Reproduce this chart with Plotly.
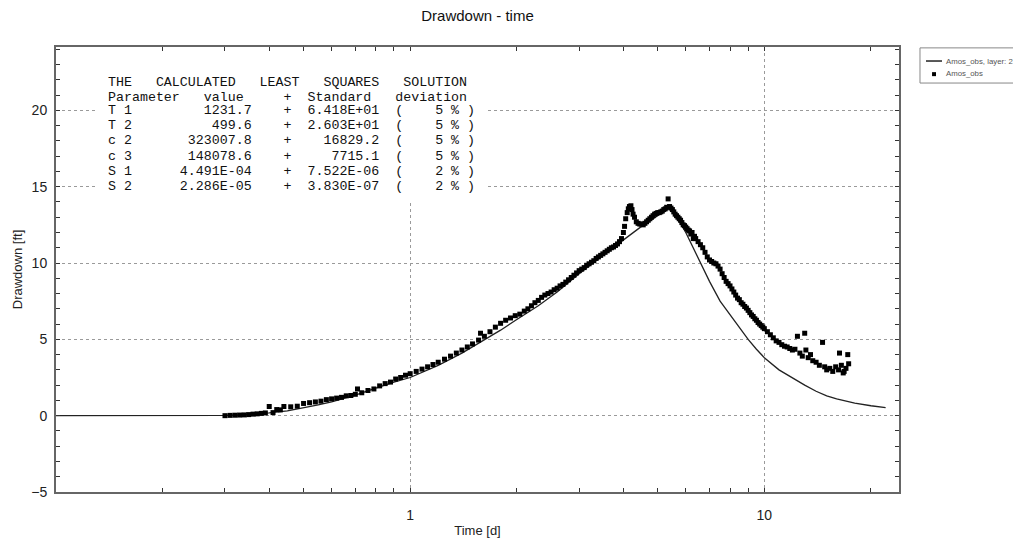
import plotly.graph_objects as go

# ---------------- data ----------------
model_t = [0.1, 0.15, 0.2, 0.25, 0.28, 0.3, 0.33, 0.36, 0.4, 0.45, 0.5, 0.55, 0.6, 0.7, 0.8, 0.9,
           1.0, 1.1, 1.2, 1.4, 1.6, 1.8, 2.0, 2.3, 2.6, 3.0, 3.5, 4.0, 4.5, 5.0, 5.4, 5.6, 5.8,
           6.0, 6.5, 7.0, 7.5, 8.0, 8.5, 9.0, 9.5, 10, 11, 12, 13, 14, 15, 16, 18, 20, 22]
model_s = [0, 0, 0, 0, 0.01, 0.02, 0.05, 0.1, 0.18, 0.32, 0.5, 0.7, 0.9, 1.35, 1.8, 2.2,
           2.5, 2.9, 3.3, 4.1, 4.9, 5.6, 6.3, 7.2, 8.1, 9.3, 10.5, 11.5, 12.4, 13.1, 13.6, 13.1, 12.6,
           12.0, 10.3, 8.8, 7.5, 6.6, 5.75, 5.0, 4.35, 3.8, 3.0, 2.45, 2.0, 1.6, 1.3, 1.1, 0.82, 0.65, 0.52]

obs_t = [0.30, 0.31, 0.32, 0.33, 0.34, 0.35, 0.36, 0.37, 0.38, 0.39, 0.40, 0.41, 0.42, 0.43, 0.44,
         0.46, 0.48, 0.50, 0.52, 0.54, 0.56, 0.58, 0.60, 0.62, 0.64, 0.66, 0.68, 0.70, 0.71, 0.73,
         0.76, 0.79, 0.82, 0.85, 0.88, 0.91, 0.94, 0.97, 1.00, 1.04, 1.08, 1.12, 1.16, 1.20, 1.25,
         1.30, 1.35, 1.40, 1.45, 1.50, 1.56, 1.58, 1.62, 1.68, 1.74, 1.80, 1.86, 1.92, 1.98, 2.04,
         2.10, 2.15, 2.20, 2.25, 2.30, 2.35, 2.40, 2.45, 2.50, 2.55, 2.60, 2.65, 2.70, 2.75, 2.80,
         2.85, 2.90, 2.95, 3.00, 3.05, 3.10, 3.15, 3.20, 3.25, 3.30, 3.35, 3.40, 3.45, 3.50, 3.55,
         3.60, 3.65, 3.70, 3.75, 3.80, 3.85, 3.90, 3.95, 4.00, 4.03, 4.06, 4.10, 4.13, 4.16, 4.20,
         4.23, 4.26, 4.30, 4.35, 4.40, 4.45, 4.50, 4.55, 4.60, 4.65, 4.70, 4.75, 4.80, 4.85, 4.90,
         4.95, 5.00, 5.05, 5.10, 5.15, 5.20, 5.25, 5.30, 5.35, 5.40, 5.45, 5.50, 5.55, 5.60, 5.65,
         5.70, 5.75, 5.80, 5.85, 5.90, 5.95, 6.00, 6.05, 6.10, 6.15, 6.20, 6.25, 6.30, 6.35, 6.40,
         6.50, 6.60, 6.70, 6.80, 6.90, 7.00, 7.10, 7.20, 7.30, 7.40, 7.50, 7.60, 7.70, 7.80, 7.90,
         8.00, 8.10, 8.20, 8.30, 8.40, 8.50, 8.60, 8.70, 8.80, 8.90, 9.00, 9.10, 9.20, 9.30, 9.40,
         9.50, 9.60, 9.70, 9.80, 9.90, 10.0, 10.2, 10.4, 10.6, 10.8, 11.0, 11.2, 11.4, 11.6, 11.8,
         12.0, 12.2, 12.4, 12.6, 12.8, 13.0, 13.1, 13.3, 13.5, 13.7, 14.0, 14.3, 14.6, 14.8, 15.0,
         15.3, 15.6, 15.9, 16.2, 16.3, 16.5, 16.7, 16.8, 17.0, 17.2, 17.3]
obs_s = [0.00, 0.02, 0.03, 0.04, 0.05, 0.07, 0.10, 0.12, 0.15, 0.18, 0.60, 0.20, 0.40, 0.38, 0.60,
         0.58, 0.62, 0.80, 0.85, 0.90, 0.95, 1.05, 1.10, 1.15, 1.20, 1.30, 1.32, 1.40, 1.75, 1.50,
         1.65, 1.75, 1.95, 2.10, 2.20, 2.40, 2.50, 2.65, 2.75, 2.90, 3.05, 3.20, 3.35, 3.50, 3.70,
         3.90, 4.10, 4.30, 4.50, 4.70, 4.95, 5.40, 5.20, 5.50, 5.80, 6.05, 6.25, 6.40, 6.55, 6.65,
         6.85, 7.00, 7.20, 7.40, 7.55, 7.75, 7.90, 8.00, 8.10, 8.25, 8.35, 8.50, 8.60, 8.75, 8.90,
         9.05, 9.20, 9.35, 9.50, 9.60, 9.70, 9.85, 9.95, 10.05, 10.15, 10.30, 10.40, 10.50, 10.60, 10.70,
         10.80, 10.90, 11.00, 11.05, 11.15, 11.25, 11.40, 11.60, 12.00, 12.40, 12.90, 13.30, 13.55, 13.70, 13.75,
         13.50, 13.20, 13.00, 12.70, 12.60, 12.55, 12.55, 12.50, 12.60, 12.70, 12.80, 12.90, 13.00, 13.10, 13.20,
         13.25, 13.30, 13.30, 13.35, 13.40, 13.50, 13.55, 13.65, 14.20, 13.70, 13.60, 13.50, 13.35, 13.20, 13.10,
         13.00, 12.90, 12.80, 12.65, 12.50, 12.45, 12.35, 12.25, 12.15, 12.10, 11.90, 12.00, 11.60, 11.75, 11.60,
         11.40, 11.20, 11.00, 10.70, 10.40, 10.20, 10.10, 10.00, 9.95, 9.80, 9.60, 9.30, 9.05, 8.80, 8.65,
         8.50, 8.30, 8.10, 7.90, 7.70, 7.60, 7.40, 7.30, 7.15, 7.05, 6.90, 6.75, 6.60, 6.50, 6.35,
         6.25, 6.10, 6.00, 5.90, 5.80, 5.70, 5.50, 5.30, 5.10, 4.90, 4.80, 4.65, 4.55, 4.50, 4.40,
         4.30, 4.35, 5.20, 4.10, 3.90, 5.40, 4.30, 3.80, 4.00, 3.60, 3.50, 3.30, 4.80, 3.20, 3.00,
         3.10, 2.90, 3.20, 3.00, 4.10, 3.30, 2.80, 2.90, 3.10, 4.00, 3.40]

table_lines = [
    "THE   CALCULATED   LEAST   SQUARES   SOLUTION",
    "Parameter   value     +  Standard   deviation",
    "T 1         1231.7    +  6.418E+01  (    5 % )",
    "T 2          499.6    +  2.603E+01  (    5 % )",
    "c 2       323007.8    +    16829.2  (    5 % )",
    "c 3       148078.6    +     7715.1  (    5 % )",
    "S 1      4.491E-04    +  7.522E-06  (    2 % )",
    "S 2      2.286E-05    +  3.830E-07  (    2 % )",
]
table_rows_y = [21.8, 20.85, 20, 19, 18, 17, 16, 15]

legend_names = ["Amos_obs, layer: 2", "Amos_obs"]

y_major = [-5, 0, 5, 10, 15, 20]
x_major = [1, 10]
x_labels = ["1", "10"]
x_minor = [0.2, 0.3, 0.4, 0.5, 0.6, 0.7, 0.8, 0.9, 2, 3, 4, 5, 6, 7, 8, 9, 20]

# ---------------- figure ----------------
fig = go.Figure()
fig.add_trace(go.Scatter(x=model_t, y=model_s, mode="lines", name=legend_names[0],
                         line=dict(color="#222222", width=1.3), showlegend=False))
fig.add_trace(go.Scatter(x=obs_t, y=obs_s, mode="markers", name=legend_names[1],
                         marker=dict(symbol="square", size=5, color="black",
                                     line=dict(width=0)), showlegend=False))

# white background behind the results table (hides grid lines there)
fig.add_annotation(text="&nbsp;", xref="paper", yref="paper", x=0.046, y=0.989,
                   xanchor="left", yanchor="top", width=393, height=148,
                   bgcolor="white", borderpad=0, borderwidth=0, showarrow=False)

for txt, yy in zip(table_lines, table_rows_y):
    fig.add_annotation(text=txt.replace(" ", "&nbsp;"), xref="paper", yref="y", x=0.059, y=yy,
                       xanchor="left", yanchor="middle", showarrow=False,
                       font=dict(family="Liberation Mono, Courier New, monospace", size=13.3,
                                 color="#111111"))

# legend box (drawn by hand so that the full entry text stays visible)
fig.add_shape(type="rect", xref="paper", yref="paper", x0=1.0249, x1=1.16, y0=0.919, y1=0.998,
              line=dict(color="#888888", width=1), fillcolor="white", layer="above")
fig.add_shape(type="line", xref="paper", yref="paper", x0=1.032, x1=1.051, y0=0.9685, y1=0.9685,
              line=dict(color="#222222", width=1.5), layer="above")
fig.add_shape(type="rect", xref="paper", yref="paper", x0=1.0392, x1=1.0439, y0=0.9345, y1=0.9435,
              line=dict(width=0), fillcolor="black", layer="above")
for name, yy in zip(legend_names, [0.9685, 0.9405]):
    fig.add_annotation(text=name, xref="paper", yref="paper", x=1.0535, y=yy,
                       xanchor="left", yanchor="middle", showarrow=False,
                       font=dict(family="Liberation Sans, Arial", size=7.8, color="#555555"))

axis_common = dict(showline=True, linecolor="#666666", linewidth=2, mirror="allticks",
                   ticks="inside", tickcolor="#333333", tickwidth=1, ticklen=4,
                   gridcolor="#9a9a9a", griddash="dot", gridwidth=1, zeroline=False,
                   tickfont=dict(family="Liberation Sans, Arial", size=14, color="#222222"))

fig.update_xaxes(type="log", range=[-1, 1.3802], tickmode="array", tickvals=x_major,
                 ticktext=x_labels, showgrid=True, ticklabelstandoff=9,
                 minor=dict(tickmode="array", tickvals=x_minor, ticks="inside", ticklen=4,
                            tickcolor="#333333", showgrid=False),
                 title=dict(text="Time [d]", standoff=4,
                            font=dict(family="Liberation Sans, Arial", size=13, color="#222222")),
                 **axis_common)
fig.update_yaxes(range=[-5, 24.15], tickmode="array", tickvals=y_major, showgrid=True,
                 ticklabelstandoff=4,
                 minor=dict(dtick=1, tick0=0, ticks="inside", ticklen=4, tickcolor="#333333",
                            showgrid=False),
                 title=dict(text="Drawdown [ft]", standoff=6,
                            font=dict(family="Liberation Sans, Arial", size=13, color="#222222")),
                 **axis_common)

fig.update_layout(
    width=1021, height=546,
    paper_bgcolor="white", plot_bgcolor="white",
    margin=dict(l=48, r=130, t=39, b=62, autoexpand=False),
    title=dict(text="Drawdown - time", x=0.5, xref="paper", xanchor="center",
               y=1 - 8 / 546, yref="container", yanchor="middle",
               font=dict(family="Liberation Sans, Arial", size=15, color="#111111")),
    showlegend=False,
)

fig.write_html("out.html")
